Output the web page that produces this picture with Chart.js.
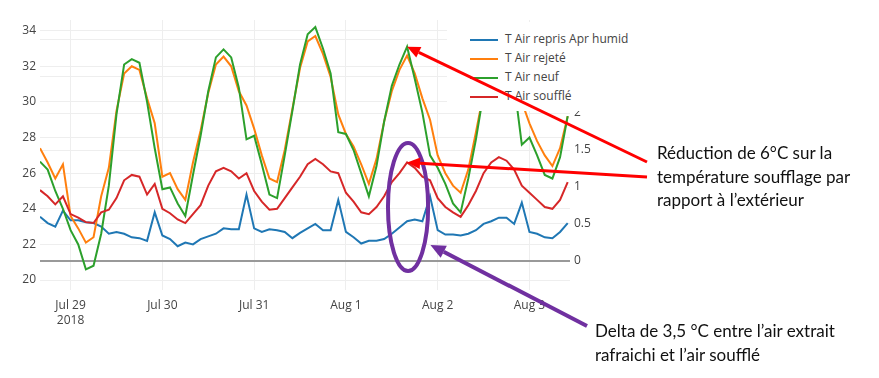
<!DOCTYPE html>
<html>
<head>
<meta charset="utf-8">
<script src="https://cdn.jsdelivr.net/npm/chart.js@4/dist/chart.umd.min.js"></script>
<style>
  body { margin: 0; background: #fff; }
  #wrap { position: relative; width: 879px; height: 378px; overflow: hidden; }
  #legend { position: absolute; left: 447px; top: 22px; width: 193px; height: 89px; background: #fff;
            font-family: "Open Sans", sans-serif; font-size: 12px; color: #444; }
  .item { position: absolute; left: 23px; height: 18px; line-height: 18px; white-space: nowrap; }
  .item i { display: inline-block; width: 28px; height: 2px; vertical-align: middle; margin-right: 7px; }
  .note { position: absolute; font-family: Lato, "Liberation Sans", sans-serif; font-size: 17px;
          color: #111; white-space: nowrap; }
  #arrows { position: absolute; left: 0; top: 0; pointer-events: none; }
</style>
</head>
<body>
<div id="wrap">
  <canvas id="myChart" width="879" height="378"></canvas>
  <div id="legend"></div>
  <div class="note" id="note1" style="left:657px; top:141px; line-height:23.5px;">Réduction de 6°C sur la<br>température soufflage par<br>rapport à l’extérieur</div>
  <div class="note" id="note2" style="left:595px; top:319px; line-height:24px;">Delta de 3,5 °C entre l’air extrait<br>rafraichi et l’air soufflé</div>
  <svg id="arrows" width="879" height="378"></svg>
</div>
<script>
// hours from Jul 29 2018 00:00
var hours = [-8, -6, -4, -2, 0, 2, 4, 6, 8, 10, 12, 14, 16, 18, 20, 22,
  24, 26, 28, 30, 32, 34, 36, 38, 40, 42, 44, 46, 48, 50, 52, 54, 56, 58, 60, 62, 64, 66, 68, 70,
  72, 74, 76, 78, 80, 82, 84, 86, 88, 90, 92, 94, 96, 98, 100, 102, 104, 106, 108, 110, 112, 114,
  116, 118, 120, 122, 124, 126, 128, 130];

var seriesNames = ['T Air repris Apr humid', 'T Air rejeté', 'T Air neuf', 'T Air soufflé'];
var seriesColors = ['#1f77b4', '#ff7f0e', '#2ca02c', '#d62728'];

var airRepris = [23.55, 23.2, 23.0, 23.9, 23.35, 23.35, 23.25, 23.2, 23.0, 22.6, 22.7, 22.6, 22.4, 22.35, 22.2, 23.8,
  22.5, 22.3, 21.9, 22.1, 22.0, 22.3, 22.45, 22.6, 22.9, 22.85, 22.85, 24.8, 22.9, 22.7, 22.85, 22.8, 22.7, 22.35, 22.65, 22.9, 23.15, 22.8, 22.8, 24.5,
  22.7, 22.4, 22.05, 22.2, 22.2, 22.3, 22.6, 22.95, 23.3, 23.4, 23.3, 24.7, 22.8, 22.55, 22.55, 22.5, 22.6, 22.8, 23.15, 23.3, 23.5, 23.5,
  23.15, 24.35, 22.7, 22.6, 22.4, 22.35, 22.7, 23.2];

var airRejete = [27.4, 26.6, 25.7, 26.5, 23.6, 22.9, 22.1, 22.4, 24.7, 26.3, 29.5, 31.6, 32.0, 31.8, 30.2, 28.8,
  25.8, 26.0, 25.1, 24.5, 26.6, 28.4, 30.5, 32.1, 32.55, 32.0, 30.6, 29.8, 28.5, 27.0, 25.7, 25.5, 27.3, 29.6, 31.9, 33.4, 33.7, 32.7, 31.4, 29.3,
  28.2, 27.5, 26.5, 25.4, 26.8, 28.9, 30.6, 31.8, 32.6, 31.6, 30.2, 29.0, 27.0, 26.0, 25.3, 24.9, 26.2, 28.3, 30.5, 32.0, 32.6, 32.3,
  31.2, 30.0, 28.8, 27.8, 27.0, 26.4, 27.4, 29.2];

var airNeuf = [26.65, 26.2, 25.0, 24.0, 22.8, 22.0, 20.6, 20.8, 22.6, 25.3, 29.3, 32.1, 32.4, 32.2, 30.0, 27.4,
  25.1, 25.2, 24.3, 23.6, 25.9, 28.1, 30.6, 32.5, 32.95, 32.5, 30.8, 27.9, 28.1, 26.5, 24.8, 24.6, 27.0, 29.5, 32.1, 33.8, 34.2, 33.0, 31.6, 28.3,
  28.2, 27.3, 26.0, 24.7, 26.4, 28.9, 30.9, 32.1, 33.1, 31.3, 29.4, 27.0, 26.3, 25.4, 24.3, 23.8, 25.7, 27.9, 30.5, 32.5, 33.0, 32.5,
  31.0, 27.6, 28.0, 27.0, 25.9, 25.7, 26.9, 29.2];

var airSouffle = [25.05, 24.7, 24.25, 24.7, 23.7, 23.5, 23.25, 23.2, 23.8, 23.95, 24.6, 25.6, 25.9, 25.8, 24.8, 25.4,
  24.0, 23.75, 23.4, 23.2, 23.7, 24.2, 25.3, 26.1, 26.3, 26.1, 25.7, 26.0, 25.0, 24.4, 23.95, 24.0, 24.6, 25.2, 25.8, 26.5, 26.8, 26.5, 26.1, 26.0,
  24.9, 24.4, 23.8, 23.7, 24.1, 24.7, 25.5, 26.0, 26.6, 26.3, 25.8, 25.6, 24.6, 24.1, 23.8, 23.55, 24.2, 25.0, 26.0, 26.6, 26.9, 26.7,
  26.2, 25.3, 24.9, 24.5, 24.1, 24.0, 24.5, 25.5];

var xTickValues = [0, 24, 48, 72, 96, 120];
var xTickLabels = [['Jul 29', '2018'], 'Jul 30', 'Jul 31', 'Aug 1', 'Aug 2', 'Aug 3'];
var leftTicks = [20, 22, 24, 26, 28, 30, 32, 34];
var rightTicks = [0, 0.5, 1, 1.5, 2, 2.5, 3];

var allSeries = [airRepris, airRejete, airNeuf, airSouffle];

function points(values) {
    return hours.map(function (h, i) { return { x: h, y: values[i] }; });
}

var tickFont = { family: 'Open Sans', size: 12, lineHeight: 1.25 };

var ctx = document.getElementById('myChart').getContext('2d');
var myChart = new Chart(ctx, {
    type: 'line',
    data: {
        datasets: allSeries.map(function (vals, i) {
            return {
                label: seriesNames[i],
                data: points(vals),
                borderColor: seriesColors[i],
                backgroundColor: seriesColors[i],
                borderWidth: 2,
                pointRadius: 0,
                tension: 0,
                order: 3 - i,
                yAxisID: 'y'
            };
        })
    },
    options: {
        responsive: false,
        animation: false,
        layout: { padding: { top: 20, right: 279, bottom: 0, left: 0 } },
        plugins: { legend: { display: false }, tooltip: { enabled: false } },
        scales: {
            x: {
                type: 'linear',
                min: -8,
                max: 130.6,
                afterBuildTicks: function (scale) {
                    scale.ticks = xTickValues.map(function (v) { return { value: v }; });
                },
                afterFit: function (scale) { scale.height = 88; },
                grid: { color: '#eee', drawTicks: false },
                border: { display: false },
                ticks: {
                    color: '#444',
                    font: tickFont,
                    padding: 8,
                    maxRotation: 0,
                    autoSkip: false,
                    callback: function (v, i) { return xTickLabels[i]; }
                }
            },
            y: {
                position: 'left',
                min: 19.44,
                max: 34.6,
                afterBuildTicks: function (scale) {
                    scale.ticks = leftTicks.map(function (v) { return { value: v }; });
                },
                afterFit: function (scale) { scale.width = 40; },
                grid: { color: '#eee', drawTicks: false },
                border: { display: false },
                ticks: { color: '#444', font: tickFont, padding: 4 }
            },
            y2: {
                position: 'right',
                display: true,
                min: -0.392,
                max: 3.257,
                afterBuildTicks: function (scale) {
                    scale.ticks = rightTicks.map(function (v) { return { value: v }; });
                },
                afterFit: function (scale) { scale.width = 30; },
                grid: {
                    drawTicks: false,
                    color: function (c) { return c.tick && c.tick.value === 0 ? '#999' : '#eee'; },
                    lineWidth: function (c) { return c.tick && c.tick.value === 0 ? 2 : 1; }
                },
                border: { display: false },
                ticks: {
                    color: '#444',
                    font: tickFont,
                    padding: 4,
                    callback: function (v) { return String(v); }
                }
            }
        }
    }
});

// legend overlay (white box over the top right of the plot, like the original)
var legend = document.getElementById('legend');
seriesNames.forEach(function (name, i) {
    var d = document.createElement('div');
    d.className = 'item';
    d.style.top = (8 + i * 19) + 'px';
    d.innerHTML = '<i style="background:' + seriesColors[i] + '"></i>' + name;
    legend.appendChild(d);
});

// annotations: arrows and ellipse, anchored on the chart scales
var sx = myChart.scales.x, sy = myChart.scales.y;
var peakIdx = hours.indexOf(88);
var svg = document.getElementById('arrows');
function arrow(x1, y1, x2, y2, color, w, head) {
    var a = Math.atan2(y2 - y1, x2 - x1);
    var bx = x2 - head * Math.cos(a), by = y2 - head * Math.sin(a);
    var px = Math.sin(a) * head * 0.45, py = -Math.cos(a) * head * 0.45;
    return '<line x1="' + x1 + '" y1="' + y1 + '" x2="' + bx + '" y2="' + by + '" stroke="' + color +
        '" stroke-width="' + w + '"/>' +
        '<polygon points="' + x2 + ',' + y2 + ' ' + (bx + px) + ',' + (by + py) + ' ' + (bx - px) + ',' + (by - py) +
        '" fill="' + color + '"/>';
}
var tip1x = sx.getPixelForValue(88), tip1y = sy.getPixelForValue(airNeuf[peakIdx]);
var tip2y = sy.getPixelForValue(airSouffle[peakIdx]);
var ex1 = sx.getPixelForValue(83), ex2 = sx.getPixelForValue(93.5);
var ey1 = sy.getPixelForValue(27.7), ey2 = sy.getPixelForValue(20.5);
var html = '';
html += '<ellipse cx="' + (ex1 + ex2) / 2 + '" cy="' + (ey1 + ey2) / 2 + '" rx="' + (ex2 - ex1) / 2 + '" ry="' + (ey2 - ey1) / 2 +
    '" fill="none" stroke="#7030a0" stroke-width="4"/>';
html += arrow(647, 162, tip1x, tip1y, '#ff0000', 3, 13);
html += arrow(647, 177, tip1x, tip2y, '#ff0000', 3, 13);
html += arrow(587, 326, sx.getPixelForValue(94.1), sy.getPixelForValue(21.97), '#7030a0', 4, 15);
svg.innerHTML = html;
</script>
</body>
</html>
